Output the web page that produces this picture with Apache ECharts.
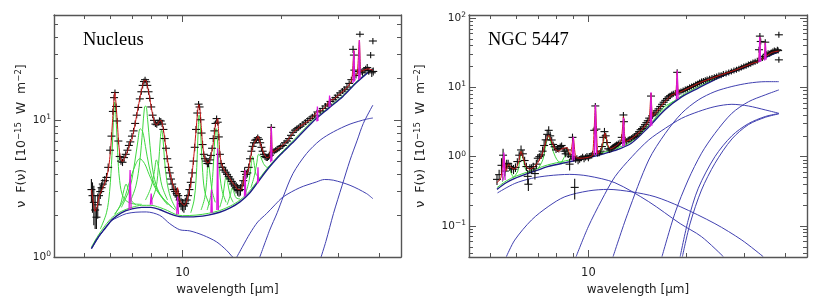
<!DOCTYPE html>
<html><head><meta charset="utf-8">
<script src="https://cdn.jsdelivr.net/npm/echarts@6/dist/echarts.min.js"></script>
<style>html,body{margin:0;padding:0;background:#fff}#c{width:830px;height:302px}</style>
</head><body><div id="c"></div>
<script>
// ---------- axis ranges & ticks ----------
const nucXRange = [4.04, 46.7];
const nucYRange = [1, 58];
const ngcXRange = [4.31, 46.7];
const ngcYRange = [0.0356, 111];
const xMajorTicks = [10];
const xMinorTicks = [5, 6, 7, 8, 9, 20, 30, 40];
const nucYMajor = [1, 10];
const nucYMinor = [2, 3, 4, 5, 6, 7, 8, 9, 20, 30, 40, 50];
const ngcYMajor = [0.1, 1, 10, 100];
const ngcYMinor = [0.04, 0.05, 0.06, 0.07, 0.08, 0.09, 0.2, 0.3, 0.4, 0.5, 0.6, 0.7, 0.8, 0.9,
  2, 3, 4, 5, 6, 7, 8, 9, 20, 30, 40, 50, 60, 70, 80, 90];
const panelTitles = ['Nucleus', 'NGC 5447'];

// ---------- Nucleus (left) ----------
// observed points: [wavelength, flux, error]
const nucObs = [
[5.26,3.1,0.6],[5.30,2.8,0.7],[5.35,2.5,0.8],[5.40,2.2,0.6],[5.45,1.95,0.35],[5.50,2.4,0.5],[5.55,2.8,0.4],[5.60,3.0,0.35],
[5.65,3.2,0.3],[5.70,3.4,0.3],[5.78,3.6,0.3],[5.85,3.8,0.3],[5.92,4.5,0.3],[6.00,6.0,0.4],[6.06,7.6,0.5],[6.12,11.5,0.6],
[6.17,14.5,0.7],[6.21,15.8,0.8],[6.26,12.5,0.6],[6.31,9.8,0.5],[6.36,7.0,0.4],[6.42,5.4,0.3],[6.48,5.0,0.3],[6.55,4.9,0.3],
[6.62,5.3,0.3],[6.70,5.6,0.3],[6.78,6.0,0.3],[6.85,6.5,0.3],[6.92,6.9,0.3],[7.00,7.6,0.3],[7.08,8.3,0.4],[7.16,9.4,0.4],
[7.24,10.8,0.4],[7.32,12.3,0.5],[7.40,14.2,0.5],[7.48,16.0,0.5],[7.55,17.8,0.6],[7.62,19.0,0.6],[7.68,19.6,0.6],[7.74,18.9,0.6],
[7.80,17.8,0.6],[7.87,16.0,0.5],[7.94,14.3,0.5],[8.02,12.4,0.4],[8.10,10.8,0.4],[8.18,9.9,0.4],[8.26,9.3,0.4],[8.34,9.2,0.4],
[8.42,9.5,0.4],[8.50,9.9,0.4],[8.58,9.8,0.4],[8.66,9.3,0.4],[8.74,8.5,0.4],[8.82,7.3,0.3],[8.90,6.2,0.3],[8.98,5.2,0.3],
[9.06,4.5,0.3],[9.14,4.1,0.3],[9.22,3.7,0.3],[9.30,3.4,0.3],[9.40,3.1,0.3],[9.50,3.0,0.3],[9.60,2.9,0.3],[9.70,2.8,0.3],
[9.80,2.6,0.3],[9.90,2.45,0.25],[10.0,2.4,0.25],[10.1,2.35,0.25],[10.2,2.45,0.25],[10.3,2.6,0.25],[10.4,2.8,0.3],[10.5,3.1,0.3],
[10.6,3.5,0.3],[10.7,4.1,0.3],[10.8,5.0,0.3],[10.9,6.3,0.4],[11.0,8.5,0.5],[11.1,11.2,0.6],[11.2,13.0,0.7],[11.28,12.4,0.6],
[11.36,10.0,0.5],[11.44,8.0,0.4],[11.52,6.6,0.4],[11.62,5.6,0.3],[11.72,5.2,0.3],[11.82,5.0,0.3],[11.92,4.8,0.3],[12.02,4.8,0.3],
[12.12,5.1,0.3],[12.22,5.5,0.3],[12.32,6.2,0.3],[12.42,7.3,0.4],[12.52,8.3,0.4],[12.62,9.4,0.5],[12.72,10.2,0.5],[12.82,9.6,0.5],
[12.92,7.5,0.4],[13.02,5.6,0.3],[13.12,4.8,0.3],[13.25,4.5,0.3],[13.40,4.3,0.3],[13.55,4.15,0.3],[13.70,4.0,0.3],[13.85,3.85,0.3],
[14.0,3.7,0.3],[14.15,3.55,0.3],[14.3,3.4,0.3],[14.45,3.3,0.3],[14.6,3.2,0.3],[14.75,3.1,0.3],[14.9,3.05,0.3],[15.05,3.1,0.3],
[15.2,3.3,0.3],[15.35,3.6,0.3],[15.5,4.2,0.3],[15.65,4.0,0.3],[15.8,4.1,0.3],[15.95,4.5,0.3],[16.1,5.2,0.3],[16.25,5.9,0.4],
[16.4,6.4,0.4],[16.55,6.8,0.4],[16.7,7.1,0.4],[16.85,7.2,0.4],[17.0,7.4,0.4],[17.15,7.2,0.4],[17.3,6.8,0.4],[17.45,6.3,0.4],
[17.6,5.9,0.4],[17.75,5.6,0.3],[17.9,5.4,0.3],[18.05,5.3,0.3],[18.2,5.3,0.3],[18.35,5.4,0.3],[18.5,5.5,0.3],[18.7,8.8,0.5],
[18.9,5.8,0.3],[19.1,5.9,0.3],[19.3,6.0,0.3],[19.5,6.1,0.3],[19.75,6.2,0.3],[20.0,6.4,0.3],[20.3,6.5,0.3],[20.6,6.8,0.3],
[20.9,7.0,0.35],[21.2,7.3,0.35],[21.5,7.7,0.35],[21.8,8.1,0.4],[22.1,8.4,0.4],[22.4,8.6,0.4],[22.7,8.8,0.4],[23.0,9.0,0.4],
[23.4,9.3,0.4],[23.8,9.6,0.4],[24.2,9.9,0.5],[24.6,10.2,0.5],[25.0,10.5,0.5],[25.4,10.8,0.5],[25.9,11.4,0.5],[26.4,11.6,0.5],
[26.9,12.1,0.5],[27.4,12.6,0.5],[27.9,13.0,0.6],[28.4,13.6,0.6],[28.9,14.0,0.6],[29.4,14.5,0.6],[29.9,15.1,0.6],[30.4,15.7,0.7],
[30.9,16.2,0.7],[31.4,16.7,0.7],[31.9,17.3,0.7],[32.4,18.4,0.8],[32.9,19.6,0.8],[33.3,32.6,2],[33.5,29.6,2],[33.6,23,1.5],
[34.0,21.0,1],[34.5,22.5,1],[34.95,42.0,2],[35.2,22.3,1],[35.6,22.0,1],[36.0,23.0,1],[36.4,23.5,1],[36.8,24.0,1.5],
[37.2,22.8,1.5],[37.7,29.6,1.5],[38.0,22.0,1.5],[38.3,37.5,2],[38.4,22.5,1.5]
];
const nucFit = [
[5.26,3.1],[5.33,2.5],[5.4,2.15],[5.47,2.3],[5.55,2.75],[5.65,3.05],[5.75,3.35],[5.85,3.75],[5.95,4.6],[6.03,6.3],[6.1,9.5],
[6.16,13.5],[6.2,15.8],[6.25,13.5],[6.31,9.8],[6.38,6.6],[6.45,5.3],[6.55,4.95],[6.65,5.3],[6.75,5.7],[6.85,6.3],[6.91,7.0],
[6.97,7.0],[7.05,7.8],[7.15,9.2],[7.25,11.0],[7.35,13.1],[7.45,15.5],[7.55,17.8],[7.65,19.4],[7.72,19.4],[7.8,17.8],[7.9,15.4],
[8.0,12.8],[8.1,10.9],[8.2,9.7],[8.3,9.2],[8.4,9.3],[8.5,9.8],[8.6,9.9],[8.7,9.0],[8.8,7.6],[8.9,6.2],[9.0,5.1],[9.15,4.1],
[9.3,3.5],[9.45,3.1],[9.6,2.85],[9.66,3.2],[9.72,2.75],[9.85,2.55],[10.0,2.42],[10.15,2.38],[10.3,2.55],[10.45,2.9],[10.6,3.4],
[10.75,4.5],[10.9,6.4],[11.05,9.5],[11.15,12.0],[11.22,12.9],[11.3,12.1],[11.4,9.3],[11.5,7.0],[11.62,5.6],[11.75,5.1],[11.9,4.85],
[12.05,4.9],[12.2,5.3],[12.28,5.8],[12.35,6.1],[12.5,7.6],[12.62,9.3],[12.72,9.6],[12.81,10.2],[12.9,8.2],[13.0,5.9],[13.15,4.8],
[13.35,4.4],[13.6,4.1],[13.9,3.8],[14.2,3.5],[14.5,3.3],[14.8,3.1],[15.1,3.1],[15.35,3.5],[15.55,4.3],[15.7,4.0],[15.9,4.3],
[16.1,5.0],[16.3,5.9],[16.5,6.6],[16.8,7.1],[17.03,7.6],[17.2,7.1],[17.5,6.2],[17.8,5.6],[18.1,5.3],[18.5,5.4],[18.71,8.9],
[18.9,5.8],[19.5,6.1],[20.0,6.35],[20.5,6.7],[21.0,7.1],[21.5,7.7],[22.0,8.2],[22.5,8.6],[23.0,9.0],[24.0,9.6],[25.0,10.4],
[25.9,11.5],[26.5,11.6],[27.5,12.5],[28.2,13.8],[29.0,14.1],[30.0,15.1],[31.0,16.1],[32.0,17.3],[33.0,19.5],[33.48,32],[33.7,21],
[34.3,21.5],[34.82,38],[35.2,22.5],[36.0,23.0],[37.0,23.5],[38.3,23.0]
];
const nucBlueSum = [[5.26,1.15],[5.5,1.38],[5.8,1.62],[6.1,1.88],[6.5,2.1],[7.0,2.24],[7.5,2.3],[8.0,2.3],[8.5,2.22],[9.0,2.1],
[9.5,2.0],[10,1.96],[11,1.97],[12,2.02],[13,2.12],[14,2.28],[15,2.52],[16,2.9],[17,3.5],[18,4.2],[19,4.9],[20,5.6],[22,7.0],
[25,9.6],[28,12.1],[31,14.8],[34,18.5],[36.5,21.5],[38.3,23.5]];
const nucStellar = [[5.26,1.15],[5.6,1.45],[5.99,1.8],[6.4,1.97],[6.73,2.07],[7.2,2.12],[7.75,2.13],[8.52,2.01],[9.14,1.75],
[9.81,1.58],[10.53,1.55],[11.57,1.44],[12.71,1.29],[13.64,1.12],[14.13,1.02],[14.5,0.96]];
const nucWarm = [[14.6,0.98],[15.3,1.2],[16.08,1.48],[17.0,1.8],[18.09,2.07],[19.2,2.4],[20.34,2.74],[22.88,3.2],[25.7,3.52],
[27.2,3.67],[28.96,3.63],[32.6,3.33],[36.6,2.9],[38.3,2.66]];
const nucCool = [[17.2,0.98],[18.5,1.57],[19.5,2.1],[20.34,2.74],[21.8,4.06],[24.0,5.68],[26.4,7.1],[29.0,8.17],[32.6,9.3],
[36.6,10.1],[38.3,10.3]];
const nucCold = [[26.5,0.98],[27.5,1.3],[29.0,2.07],[30.8,3.3],[32.6,5.08],[34.3,7.1],[35.8,9.4],[38.3,12.8]];
const nucGreenBase = [[5.26,1.18],[5.5,1.42],[5.8,1.7],[6.1,1.95],[6.5,2.15],[7.0,2.3],[7.5,2.38],[8.0,2.38],[8.5,2.3],
[9.0,2.18],[9.5,2.05],[10,2.0],[11,2.02],[12,2.08],[13,2.18],[14,2.35],[15,2.6],[16,3.0],[17,3.6],[18,4.3],[19,5.0],[20,5.7],
[22,7.2],[25,9.8],[28,12.3],[31,15.0],[34,18.8],[36.5,21.7],[38.3,23.6]];
const nucPah = [
[[5.6,1.6],[5.85,2.1],[5.98,3.0],[6.08,5.5],[6.14,9.5],[6.2,13.5],[6.26,10],[6.33,5.8],[6.42,3.6],[6.6,2.7],[7.0,2.45],[7.5,2.42]],
[[6.2,2.05],[6.45,2.4],[6.62,3.1],[6.72,3.4],[6.82,3.1],[6.95,2.6],[7.2,2.4]],
[[6.2,2.05],[6.6,2.6],[6.9,3.6],[7.15,4.6],[7.4,5.2],[7.65,4.8],[7.9,4.0],[8.3,3.1],[8.8,2.6],[9.5,2.2]],
[[6.5,2.3],[6.9,3.2],[7.15,5.0],[7.3,7.0],[7.42,8.6],[7.55,8.2],[7.7,6.4],[7.9,4.6],[8.2,3.4],[8.7,2.7],[9.3,2.3]],
[[6.9,2.5],[7.2,3.3],[7.4,5.0],[7.55,8.5],[7.65,12.4],[7.72,12.6],[7.82,10],[7.95,6.5],[8.15,4.0],[8.5,2.9],[9.0,2.4]],
[[7.7,2.6],[8.0,3.2],[8.2,4.2],[8.32,5.1],[8.45,4.5],[8.65,3.3],[9.0,2.6]],
[[8.0,2.5],[8.3,3.2],[8.45,4.8],[8.55,7.2],[8.62,8.4],[8.7,7.6],[8.8,5.3],[8.95,3.6],[9.2,2.7],[9.6,2.2]],
[[10.6,2.1],[10.85,2.6],[11.0,3.6],[11.1,5.6],[11.18,9.0],[11.24,10.8],[11.3,10.4],[11.38,7.6],[11.5,4.6],[11.7,3.0],[12.1,2.4]],
[[11.4,2.2],[11.7,2.7],[11.85,3.5],[11.98,4.8],[12.1,4.3],[12.3,3.1],[12.6,2.5]],
[[11.9,2.2],[12.2,2.8],[12.4,4.2],[12.52,6.4],[12.62,8.5],[12.7,8.6],[12.8,7.0],[12.95,4.6],[13.2,3.1],[13.6,2.5]],
[[13.0,2.3],[13.3,2.8],[13.5,3.6],[13.62,3.9],[13.75,3.5],[14.0,2.8],[14.3,2.5]],
[[13.7,2.4],[14.0,2.8],[14.2,3.2],[14.35,3.0],[14.6,2.7],[15.0,2.65]],
[[15.6,2.9],[16.0,3.6],[16.25,4.8],[16.4,5.4],[16.55,4.9],[16.8,4.0],[17.2,3.8]],
[[16.2,3.2],[16.6,3.9],[16.9,4.9],[17.1,5.6],[17.35,5.4],[17.7,4.8],[18.2,4.5],[18.8,4.8]]
];
const nucLines = [
[[6.86,2.2],[6.91,4.3],[6.96,2.25]],
[[7.97,2.4],[8.02,2.9],[8.07,2.4]],
[[9.6,2.05],[9.66,2.75],[9.72,2.05]],
[[12.22,2.1],[12.28,3.1],[12.34,2.1]],
[[12.74,2.2],[12.81,6.2],[12.88,2.2]],
[[15.48,2.75],[15.55,4.3],[15.62,2.8]],
[[16.97,3.4],[17.03,4.5],[17.09,3.5]],
[[18.63,4.9],[18.71,8.9],[18.79,5.0]],
[[25.8,9.7],[25.9,12.5],[26.0,9.8]],
[[28.1,12.4],[28.22,15],[28.35,12.5]],
[[33.3,18.5],[33.48,32],[33.66,19]],
[[34.65,19.5],[34.82,38],[35.0,20]]
];

// ---------- NGC 5447 (right) ----------
const ngcObs = [
[5.25,0.47,0.08],[5.33,0.55,0.1],[5.42,0.75,0.2],[5.48,1.05,0.25],[5.55,0.62,0.1],[5.62,0.78,0.12],[5.68,0.80,0.1],[5.75,0.72,0.1],
[5.82,0.68,0.1],[5.9,0.66,0.1],[5.98,0.70,0.1],[6.06,0.85,0.1],[6.14,1.05,0.15],[6.22,1.25,0.2],[6.3,1.1,0.15],[6.38,0.88,0.12],
[6.46,0.72,0.1],[6.52,0.52,0.12],[6.55,0.40,0.08],[6.62,0.68,0.1],[6.7,0.68,0.1],[6.78,0.72,0.1],[6.86,0.57,0.1],[6.93,0.78,0.12],
[7.0,0.95,0.12],[7.08,1.0,0.12],[7.16,1.06,0.12],[7.24,1.2,0.2],[7.32,1.45,0.3],[7.4,1.75,0.3],[7.48,2.1,0.35],[7.56,2.4,0.35],
[7.64,2.0,0.3],[7.72,1.74,0.2],[7.8,1.5,0.15],[7.88,1.39,0.15],[7.96,1.25,0.12],[8.04,1.32,0.15],[8.12,1.3,0.15],[8.2,1.4,0.15],
[8.28,1.45,0.15],[8.36,1.32,0.15],[8.44,1.2,0.12],[8.52,1.1,0.12],[8.6,1.25,0.12],[8.68,1.06,0.1],[8.76,0.78,0.15],[8.84,1.0,0.1],
[8.94,1.9,0.25],[9.02,0.95,0.1],[9.08,0.36,0.12],[9.14,0.92,0.1],[9.22,0.95,0.1],[9.3,0.88,0.1],[9.4,0.92,0.1],[9.5,0.96,0.1],
[9.6,1.0,0.1],[9.7,0.93,0.1],[9.8,0.98,0.1],[9.9,1.02,0.1],[10.0,0.96,0.1],[10.1,1.02,0.1],[10.2,1.05,0.1],[10.3,1.1,0.1],
[10.42,2.4,0.3],[10.5,5.4,0.5],[10.58,2.5,0.3],[10.68,1.1,0.1],[10.8,1.12,0.1],[10.9,1.2,0.12],[11.0,1.4,0.15],[11.1,1.9,0.2],
[11.2,2.3,0.3],[11.3,2.0,0.2],[11.4,1.6,0.15],[11.5,1.3,0.12],[11.62,1.25,0.12],[11.75,1.3,0.12],[11.88,1.35,0.12],[12.0,1.4,0.12],
[12.1,1.45,0.12],[12.2,1.5,0.12],[12.35,1.55,0.12],[12.5,1.6,0.15],[12.65,1.9,0.2],[12.8,4.0,0.4],[12.85,3.2,0.3],[12.95,1.7,0.15],
[13.1,1.65,0.15],[13.25,1.75,0.15],[13.4,1.8,0.15],[13.55,1.85,0.15],[13.7,1.9,0.15],[13.85,1.95,0.15],[14.0,2.05,0.2],[14.15,2.15,0.2],
[14.3,2.3,0.2],[14.45,2.45,0.2],[14.6,2.55,0.2],[14.75,2.7,0.25],[14.9,2.9,0.25],[15.05,3.1,0.25],[15.2,3.3,0.25],[15.35,3.6,0.3],
[15.55,7.5,0.8],[15.7,3.9,0.3],[15.85,4.1,0.3],[16.0,4.3,0.3],[16.2,4.6,0.3],[16.4,4.9,0.3],[16.6,5.3,0.35],[16.8,5.7,0.35],
[17.0,6.1,0.4],[17.2,6.5,0.4],[17.4,6.9,0.4],[17.6,7.3,0.4],[17.8,7.6,0.4],[18.0,7.9,0.4],[18.2,8.1,0.4],[18.45,8.3,0.4],
[18.7,16.5,1.5],[18.95,8.5,0.4],[19.2,8.7,0.4],[19.5,9.0,0.4],[19.8,9.3,0.4],[20.1,9.6,0.5],[20.4,10.0,0.5],[20.7,10.3,0.5],
[21.0,10.6,0.5],[21.3,11.0,0.5],[21.6,11.3,0.5],[21.9,11.8,0.5],[22.2,12.2,0.5],[22.5,12.4,0.5],[22.8,12.7,0.5],[23.1,13.0,0.5],
[23.5,13.3,0.6],[23.9,13.7,0.6],[24.3,14.0,0.6],[24.7,14.4,0.6],[25.1,14.8,0.6],[25.5,15.0,0.6],[25.9,15.6,0.7],[26.4,15.9,0.7],
[26.9,16.4,0.7],[27.4,17.0,0.7],[27.9,17.5,0.7],[28.4,18.0,0.8],[28.9,18.6,0.8],[29.4,19.3,0.8],[29.9,20.0,0.8],[30.4,20.6,0.9],
[30.9,21.4,0.9],[31.4,22.0,0.9],[31.9,22.8,1.0],[32.4,23.4,1.0],[32.9,24.2,1.0],[33.3,35,3],[33.5,55,4],[33.7,46,3],
[34.1,26.5,1.2],[34.5,28,1.5],[34.8,45,3],[35.1,30,1.5],[35.5,31,1.5],[35.9,30.5,1.5],[36.3,32,1.5],[36.7,33,1.8],
[37.1,34,1.8],[37.5,33.5,2],[37.9,35,2],[38.1,34,2],[38.3,57.5,3],[38.3,25,2]
];
const ngcFit = [
[5.25,0.42],[5.4,0.5],[5.51,1.05],[5.6,0.62],[5.7,0.78],[5.8,0.7],[5.95,0.66],[6.1,0.8],[6.22,1.2],[6.32,0.95],[6.45,0.72],
[6.6,0.66],[6.8,0.7],[7.0,0.82],[7.2,1.05],[7.4,1.6],[7.55,2.05],[7.7,1.7],[7.9,1.3],[8.1,1.2],[8.3,1.3],[8.6,1.35],[8.8,1.05],
[8.99,1.9],[9.15,0.98],[9.5,0.95],[10.0,0.98],[10.3,1.05],[10.51,5.4],[10.7,1.1],[11.0,1.4],[11.25,2.2],[11.45,1.5],[11.7,1.3],
[12.2,1.45],[12.6,1.7],[12.81,3.8],[13.0,1.65],[13.5,1.8],[14.0,2.05],[14.5,2.4],[15.0,2.9],[15.35,3.5],[15.55,8.2],[15.75,3.9],
[16.5,5.0],[17.3,6.5],[18.0,7.8],[18.5,8.2],[18.71,17],[18.9,8.4],[20,9.5],[22,11.8],[24,13.7],[26,15.7],[28,17.6],[30,20.0],
[32,22.5],[33.2,24],[33.48,53],[33.7,25],[34.5,27],[34.82,44],[35.1,28.5],[36.5,32],[38.3,33.5]
];
const ngcBlueSum = [[5.25,0.337],[5.6,0.42],[5.95,0.486],[6.5,0.57],[7.0,0.64],[7.5,0.717],[8.5,0.82],[9.5,0.915],[10.5,1.02],
[12.0,1.22],[13.5,1.55],[15.2,2.6],[17.2,4.8],[19.3,7.3],[21.7,9.8],[24.4,13.0],[27.5,16.5],[30.9,20.5],[34.8,27],[38.3,33]];
const ngcGreenBase = [[5.25,0.357],[5.6,0.445],[5.95,0.515],[6.5,0.6],[7.0,0.68],[7.5,0.76],[8.5,0.87],[9.5,0.97],[10.5,1.08],
[12.0,1.29],[13.5,1.64],[15.2,2.75],[17.2,5.0],[19.3,7.6],[21.7,10.2],[24.4,13.5],[27.5,17.0],[30.9,21.0],[34.8,27.5],[38.3,33.5]];
const ngcStellar = [[5.27,0.30],[5.95,0.41],[6.7,0.486],[7.53,0.53],[8.76,0.555],[9.99,0.526],[12.06,0.42],[15.3,0.224],
[19.1,0.108],[22.2,0.07],[25.9,0.036]];
const ngcBroad = [[5.61,0.036],[5.95,0.0625],[6.7,0.122],[7.53,0.19],[8.47,0.264],[9.99,0.32],[11.5,0.337],[13.6,0.31],
[16.0,0.264],[19.1,0.19],[24.4,0.108],[29.5,0.0625],[34.3,0.036]];
const ngcWarm = [[9.17,0.036],[9.99,0.097],[10.98,0.236],[12.06,0.514],[13.6,1.0],[15.3,1.74],[17.2,2.57],[19.3,3.58],
[21.7,4.47],[24.4,5.28],[27.5,5.7],[30.9,5.39],[34.8,4.73],[38.3,4.23]];
const ngcCool = [[11.9,0.036],[13.2,0.152],[15.3,0.895],[17.2,2.17],[19.3,4.23],[21.7,6.59],[24.4,8.7],[27.5,10.3],
[30.9,11.5],[34.8,12.1],[38.3,12.1]];
const ngcColdA = [[16.8,0.036],[18.4,0.152],[20.2,0.46],[22.2,1.12],[24.4,2.17],[27.5,4.23],[30.9,6.2],[34.8,7.8],[38.3,9.2]];
const ngcColdB = [[19.1,0.036],[20.2,0.12],[21.7,0.35],[24.4,1.0],[27.5,2.0],[30.9,3.0],[34.8,3.8],[38.3,4.2]];
const ngcColdC = [[19.4,0.036],[20.5,0.11],[22.2,0.33],[24.4,0.8],[27.5,1.8],[30.9,2.9],[34.8,3.7],[38.3,4.15]];
const ngcPah = [
[[5.45,0.43],[5.58,0.6],[5.68,0.78],[5.78,0.6],[5.9,0.5]],
[[5.9,0.5],[6.08,0.62],[6.18,0.95],[6.24,1.22],[6.3,1.0],[6.42,0.66],[6.6,0.59]],
[[7.0,0.66],[7.25,0.9],[7.42,1.5],[7.55,1.95],[7.65,1.7],[7.8,1.2],[8.1,0.85],[8.5,0.8]],
[[8.2,0.78],[8.45,1.0],[8.6,1.3],[8.72,1.1],[8.95,0.88]],
[[10.8,1.07],[11.05,1.35],[11.2,2.0],[11.28,2.15],[11.38,1.7],[11.55,1.25],[11.8,1.18]],
[[12.2,1.25],[12.5,1.5],[12.68,1.75],[12.85,1.5],[13.1,1.45]],
[[15.8,3.3],[16.5,4.3],[17.1,5.3],[17.6,5.7],[18.2,6.3]]
];
const ngcLines = [
[[5.46,0.45],[5.51,1.15],[5.56,0.46]],
[[8.93,0.88],[8.99,1.94],[9.05,0.89]],
[[10.43,1.05],[10.51,5.6],[10.59,1.06]],
[[12.73,1.4],[12.81,3.6],[12.89,1.42]],
[[15.46,2.7],[15.55,8.5],[15.64,2.8]],
[[18.6,6.7],[18.71,17.5],[18.82,6.8]],
[[33.3,23],[33.48,54],[33.66,23.5]],
[[34.64,24.5],[34.82,44],[35.0,25]]
];

// ---------- styling ----------
const C = { blue:'#4040b0', blueSum:'#1c1c86', green:'#3fd83f', red:'#c81414', mag:'#dc16dc', data:'#101010', axis:'#555', text:'#222' };
const L10 = Math.log10;
const grids = [
  { left: 54, top: 15, width: 347, height: 242 },
  { left: 469, top: 15, width: 338, height: 242 }
];

const xAxes = [], yAxes = [];
// data axes (log scale)
[[nucXRange, nucYRange], [ngcXRange, ngcYRange]].forEach(([xr, yr], g) => {
  xAxes.push({ type: 'log', gridIndex: g, min: xr[0], max: xr[1], show: false });
  yAxes.push({ type: 'log', gridIndex: g, min: yr[0], max: yr[1], show: false });
});

function sup(v) {
  const e = Math.round(v);
  return '{b|10}{s|' + (e < 0 ? '\u2212' + (-e) : e) + '}';
}
const labelRich = { b: { fontSize: 10.5, fontFamily: 'DejaVu Sans', color: C.text, lineHeight: 14 },
  s: { fontSize: 7.5, fontFamily: 'DejaVu Sans', color: C.text, lineHeight: 9, verticalAlign: 'top' } };

function helper(dim, g, range, ticks, pos, len, opts) {
  const a = {
    type: 'value', gridIndex: g, position: pos, min: L10(range[0]), max: L10(range[1]),
    splitLine: { show: false }, minorTick: { show: false },
    axisLine: { show: !!opts.line, onZero: false, lineStyle: { color: C.axis, width: 1.4 } },
    axisTick: { show: true, inside: true, length: len, customValues: ticks.map(L10), lineStyle: { color: C.axis, width: 1 } },
    axisLabel: { show: false },
    z: 5
  };
  if (opts.label) {
    a.axisLabel = Object.assign({ show: true, customValues: ticks.map(L10) }, opts.label);
  }
  if (opts.name) Object.assign(a, opts.name);
  (dim === 'x' ? xAxes : yAxes).push(a);
}
const yTitle = 'ν  F(ν)  [10{s|\u221215}  W  m{s|\u22122}]';
const nameRich = { s: { fontSize: 8.5, fontFamily: 'DejaVu Sans', color: C.text, lineHeight: 10, verticalAlign: 'top' } };
[[nucXRange, nucYRange, nucYMajor, nucYMinor, 23], [ngcXRange, ngcYRange, ngcYMajor, ngcYMinor, 41]].forEach(([xr, yr, yMaj, yMin, gap], g) => {
  helper('x', g, xr, xMajorTicks, 'bottom', 7, { line: true,
    label: { margin: 10, fontSize: 11.5, fontFamily: 'DejaVu Sans', color: C.text, formatter: v => String(Math.round(Math.pow(10, v))) },
    name: { name: 'wavelength [μm]', nameLocation: 'middle', nameGap: 21, nameTextStyle: { fontSize: 12, fontFamily: 'DejaVu Sans', color: C.text } } });
  helper('x', g, xr, xMinorTicks, 'bottom', 4, {});
  helper('x', g, xr, xMajorTicks, 'top', 7, { line: true });
  helper('x', g, xr, xMinorTicks, 'top', 4, {});
  helper('y', g, yr, yMaj, 'left', 7, { line: true,
    label: { margin: 3, formatter: v => sup(v), rich: labelRich },
    name: { name: yTitle, nameLocation: 'middle', nameGap: gap, nameRotate: 90,
      nameTextStyle: { fontSize: 12.5, fontFamily: 'DejaVu Sans', color: C.text, lineHeight: 15, rich: nameRich } } });
  helper('y', g, yr, yMin, 'left', 4, {});
  helper('y', g, yr, yMaj, 'right', 7, { line: true });
  helper('y', g, yr, yMin, 'right', 4, {});
});

const series = [];
function line(data, g, color, width, smooth, z) {
  series.push({ type: 'line', xAxisIndex: g, yAxisIndex: g, data: data, showSymbol: false, symbol: 'none',
    smooth: smooth, lineStyle: { color: color, width: width }, z: z, silent: true, clip: true });
}
function crosses(data, g) {
  series.push({ type: 'custom', xAxisIndex: g, yAxisIndex: g, data: data, z: 4, silent: true, clip: true,
    encode: { x: 0, y: 1 },
    renderItem: (params, api) => {
      const x = api.value(0), y = api.value(1), e = api.value(2);
      const c = api.coord([x, y]);
      const hi = api.coord([x, y + e]);
      const lo = api.coord([x, Math.max(y - e, y * 0.2)]);
      const w = 4;
      return { type: 'group', children: [
        { type: 'line', shape: { x1: c[0] - w, y1: c[1], x2: c[0] + w, y2: c[1] }, style: { stroke: C.data, lineWidth: 1.1 } },
        { type: 'line', shape: { x1: c[0], y1: Math.min(hi[1], c[1] - 3), x2: c[0], y2: Math.max(lo[1], c[1] + 3) }, style: { stroke: C.data, lineWidth: 1.1 } }
      ] };
    } });
}

// Nucleus
[nucStellar, nucWarm, nucCool, nucCold].forEach(d => line(d, 0, C.blue, 1, 0.3, 2));
line(nucGreenBase, 0, C.green, 1, 0.3, 3);
nucPah.forEach(d => line(d, 0, C.green, 1, 0.35, 3));
line(nucBlueSum, 0, C.blueSum, 1.4, 0.3, 3);
crosses(nucObs, 0);
line(nucFit, 0, C.red, 1, 0.2, 6);
nucLines.forEach(d => line(d, 0, C.mag, 1.3, false, 7));

// NGC 5447
[ngcStellar, ngcBroad, ngcWarm, ngcCool, ngcColdA, ngcColdB, ngcColdC].forEach(d => line(d, 1, C.blue, 1, 0.3, 2));
line(ngcGreenBase, 1, C.green, 1, 0.3, 3);
ngcPah.forEach(d => line(d, 1, C.green, 1, 0.35, 3));
line(ngcBlueSum, 1, C.blueSum, 1.4, 0.3, 3);
crosses(ngcObs, 1);
line(ngcFit, 1, C.red, 1, 0.2, 6);
ngcLines.forEach(d => line(d, 1, C.mag, 1.3, false, 7));

const chart = echarts.init(document.getElementById('c'), null, { renderer: 'canvas' });
chart.setOption({
  animation: false,
  backgroundColor: '#fff',
  title: [
    { text: panelTitles[0], left: 83, top: 31, padding: 0, textStyle: { fontFamily: 'Liberation Serif', fontSize: 18.5, fontWeight: 'normal', color: '#000' } },
    { text: panelTitles[1], left: 488, top: 31, padding: 0, textStyle: { fontFamily: 'Liberation Serif', fontSize: 18.5, fontWeight: 'normal', color: '#000' } }
  ],
  grid: grids,
  xAxis: xAxes,
  yAxis: yAxes,
  series: series
});
</script></body></html>
